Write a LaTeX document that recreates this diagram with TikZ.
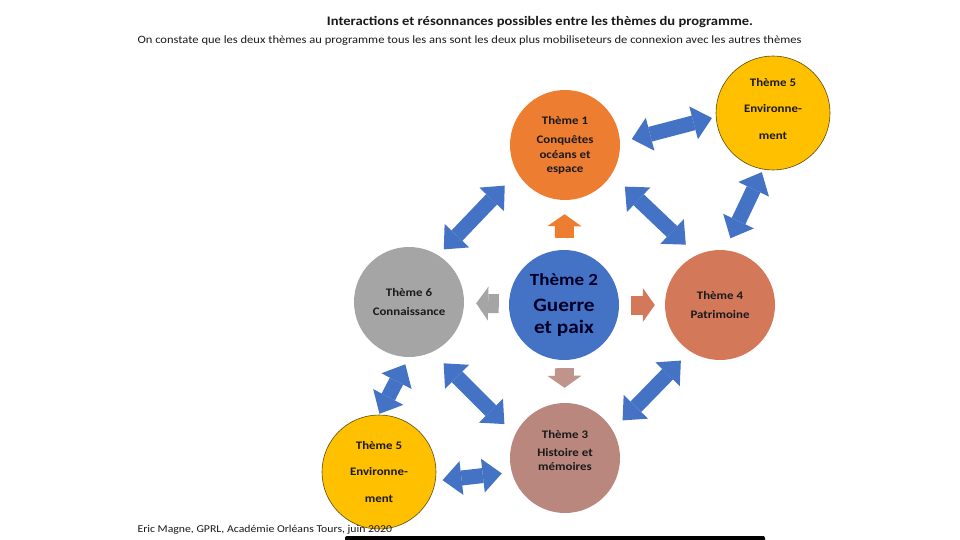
\documentclass[tikz,border=0pt]{standalone}
\usepackage{fontspec}
\setmainfont[FakeStretch=1.12]{Carlito}
\usepackage{xcolor}
\usetikzlibrary{arrows.meta}

\definecolor{orangeT}{HTML}{ED7D31}
\definecolor{yellowT}{HTML}{FFC000}
\definecolor{blueT}{HTML}{4472C4}
\definecolor{greyT}{HTML}{A5A5A5}
\definecolor{brickT}{HTML}{D4785A}
\definecolor{mauveT}{HTML}{B9877E}
\definecolor{arrowblue}{HTML}{4472C4}
\definecolor{outlineY}{HTML}{5C4B14}
\definecolor{textdark}{HTML}{1A1A1A}

\begin{document}
\begin{tikzpicture}[x=1pt, y=-1pt,
    theme/.style={circle, minimum size=110pt, inner sep=0pt, align=center, text=textdark,
      font=\bfseries\fontsize{11.5}{14.5}\selectfont},
    yellowtheme/.style={theme, fill=yellowT, draw=outlineY, line width=0.6pt, minimum size=114pt},
    twoarr/.style={draw=arrowblue, line width=15pt,
      {Triangle[length=19pt,width=34pt,line width=0pt]}-{Triangle[length=19pt,width=34pt,line width=0pt]}},
    onearr/.style={line width=19pt, -{Triangle[length=12pt,width=34pt,line width=0pt]}}
  ]
    \useasboundingbox (0,0) rectangle (960,540);
    \fill[white] (0,0) rectangle (960,540);

    % titles
    \node[font=\bfseries\fontsize{13}{15}\selectfont, text=textdark] (title) at (540,22)
      {Interactions et résonnances possibles entre les thèmes du programme.};
    \node[anchor=west, font=\fontsize{11.2}{13}\selectfont, text=textdark] (subtitle) at (134,41)
      {On constate que les deux thèmes au programme tous les ans sont les deux plus mobiliseteurs de connexion avec les autres thèmes};

    % themes
    \node[theme, fill=orangeT] (theme1) at (565,145) {\\[-6pt]Thème 1\\[5pt]Conquêtes\\océans et\\espace};
    \node[theme, fill=blueT, text=black!85!blue, font=\bfseries\fontsize{17}{22}\selectfont] (theme2) at (564,305)
      {Thème 2\\[4pt]{\fontsize{19}{22}\selectfont Guerre}\\{\fontsize{19}{22}\selectfont et paix}};
    \node[theme, fill=mauveT] (theme3) at (565,458) {Thème 3\\[3pt]Histoire et\\mémoires\\[0pt]};
    \node[theme, fill=brickT] (theme4) at (720,305) {Thème 4\\[4pt]Patrimoine};
    \node[yellowtheme] (theme5a) at (773,113) {Thème 5\\[12pt]Environne-\\[12pt]ment\\[-6pt]};
    \node[yellowtheme] (theme5b) at (379,472) {Thème 5\\[12pt]Environne-\\[12pt]ment};
    \node[theme, fill=greyT] (theme6) at (409,302) {Thème 6\\[4pt]Connaissance};

    % arrows out of theme 2
    \draw[onearr, orangeT, shorten <=12pt, shorten >=14pt] (theme2) -- (theme1);
    \draw[onearr, brickT, shorten <=12pt, shorten >=10pt] (theme2) -- (theme4);
    \draw[onearr, mauveT!90!white, shorten <=8pt, shorten >=15pt] (theme2) -- (theme3);
    \draw[onearr, greyT, shorten <=10pt, shorten >=12pt] (theme2) -- (theme6);

    % links between the other themes
    \draw[twoarr, shorten <=12pt, shorten >=4pt] (theme1.3) -- (theme5a.184);
    \draw[twoarr, shorten <=18pt, shorten >=15pt] (theme1.-32) -- (theme4.115);
    \draw[twoarr, shorten <=3pt, shorten >=13pt] (theme5a.-100) -- (theme4.85);
    \draw[twoarr, shorten <=18pt, shorten >=8pt] (theme1.210) -- (theme6.58);
    \draw[twoarr, shorten <=13pt, shorten >=14pt] (theme4.237) -- (theme3.30);
    \draw[twoarr, shorten <=16pt, shorten >=15pt] (theme6.-65) -- (theme3.155);
    \draw[twoarr, shorten <=8pt, shorten >=1pt] (theme6.-90) -- (theme5b.90);
    \draw[twoarr, shorten <=7pt, shorten >=10pt] (theme5b.-9) -- (theme3.195);

    % footer
    \node[anchor=west, font=\fontsize{10.5}{12}\selectfont, text=textdark] (footer) at (134,530)
      {Eric Magne, GPRL, Académie Orléans Tours, juin 2020};
    \fill[black, rounded corners=2pt] (345,536) rectangle (765,544);
\end{tikzpicture}
\end{document}
